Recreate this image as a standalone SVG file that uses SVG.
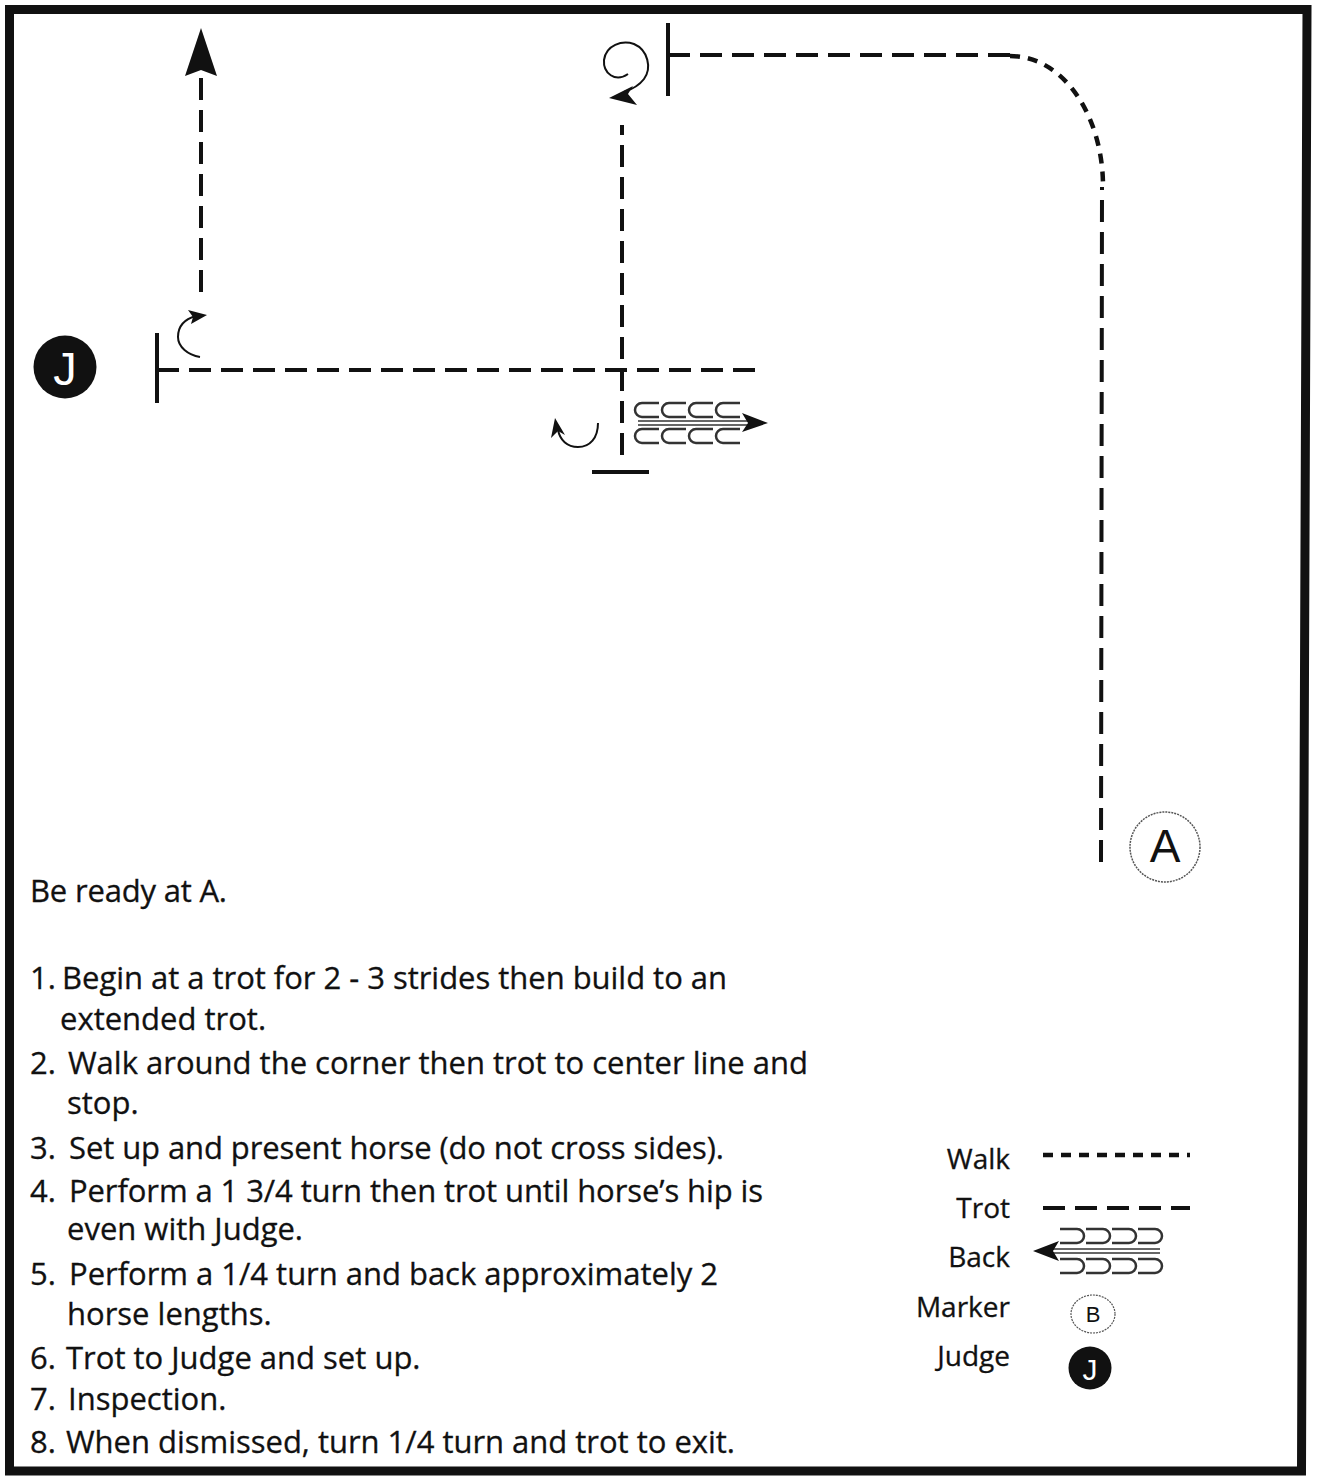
<svg xmlns="http://www.w3.org/2000/svg" width="1317" height="1478" viewBox="0 0 1317 1478">
<style>
.trot{fill:none;stroke:#111;stroke-width:4;stroke-dasharray:22 10}
.walk{fill:none;stroke:#111;stroke-width:4.5;stroke-dasharray:10 8}
.bar{stroke:#111;stroke-width:4;fill:none}
.thin{fill:none;stroke:#111;stroke-width:2}
.cc{fill:none;stroke:#333;stroke-width:2.5}
.head{fill:#111}
.txt{font-family:"Open Sans","Liberation Sans",sans-serif;font-size:31px;fill:#111;stroke:#111;stroke-width:0.3}
.leg{font-family:"Open Sans","Liberation Sans",sans-serif;font-size:28px;fill:#111;text-anchor:end;stroke:#111;stroke-width:0.3}
</style>
<rect width="1317" height="1478" fill="#fff"/>
<path id="frame" d="M9.5,9.5 H1307 L1301.5,1471 H9.5 Z" fill="none" stroke="#111" stroke-width="9"/>

<g id="connectors">
  <line class="trot" x1="201" y1="292" x2="201" y2="77" stroke-dasharray="21 11"/>
  <polygon class="head" points="201,28 217,76 201,70 185,76"/>
  <line class="trot" x1="157" y1="370" x2="755" y2="370"/>
  <line class="bar" x1="157" y1="333" x2="157" y2="403"/>
  <line class="trot" x1="622" y1="455" x2="622" y2="125" stroke-dasharray="18 15"/>
  <line class="bar" x1="592" y1="472" x2="649" y2="472"/>
  <line class="trot" x1="668" y1="55" x2="1010" y2="55"/>
  <line class="bar" x1="668" y1="23" x2="668" y2="96"/>
  <path class="walk" d="M1010,56 C1065,56 1103,118 1103,186"/>
  <line class="trot" x1="1101" y1="862" x2="1102" y2="187"/>
</g>

<g id="turn-left-top">
  <path class="thin" d="M200,357 C188,355 178,347 178,337 C178,326 185,319 196,316"/>
  <polygon class="head" points="207,315 188,310 193,317 191,324"/>
</g>

<g id="spiral">
  <path class="thin" d="M628,74 C615,83 603,73 604,60 C606,45 622,40 634,44 C648,50 652,68 644,79 C638,87 630,90 624,92"/>
  <polygon class="head" points="609,98 633,86 628,94 637,105"/>
</g>

<g id="uturn">
  <path class="thin" d="M598,423 C598,438 590,447 578,447 C567,447 560,440 558,430"/>
  <polygon class="head" points="555,418 565,435 558,431 551,438"/>
</g>

<g id="back-symbol">
  <path class="cc" d="M659,403 H642 A7,7 0 0 0 642,417 H659 M686,403 H669 A7,7 0 0 0 669,417 H686 M713,403 H696 A7,7 0 0 0 696,417 H713 M740,403 H723 A7,7 0 0 0 723,417 H740"/>
  <path class="cc" d="M659,429 H642 A7,7 0 0 0 642,443 H659 M686,429 H669 A7,7 0 0 0 669,443 H686 M713,429 H696 A7,7 0 0 0 696,443 H713 M740,429 H723 A7,7 0 0 0 723,443 H740"/>
  <line x1="638" y1="421" x2="748" y2="421" stroke="#333" stroke-width="1.6"/>
  <line x1="638" y1="425" x2="748" y2="425" stroke="#333" stroke-width="1.6"/>
  <polygon class="head" points="768,423 742,413 748,423 742,432"/>
</g>

<g id="judge">
  <circle cx="65" cy="367" r="31.5" fill="#111"/>
  <text x="65" y="385" font-family="Liberation Sans, sans-serif" font-size="47" fill="#fff" text-anchor="middle">J</text>
</g>

<g id="marker-a">
  <circle cx="1165" cy="847" r="35" fill="none" stroke="#555" stroke-width="1.5" stroke-dasharray="2 1"/>
  <text x="1165" y="862" font-family="Liberation Sans, sans-serif" font-size="46" fill="#111" text-anchor="middle">A</text>
</g>

<g id="instructions" class="txt">
  <text x="30" y="902" textLength="197">Be ready at A.</text>
  <text x="30" y="989">1.</text><text x="62" y="989" textLength="665">Begin at a trot for 2 - 3 strides then build to an</text>
  <text x="60" y="1030">extended trot.</text>
  <text x="30" y="1074">2.</text><text x="68" y="1074" textLength="740">Walk around the corner then trot to center line and</text>
  <text x="67" y="1114">stop.</text>
  <text x="30" y="1159">3.</text><text x="69" y="1159" textLength="655">Set up and present horse (do not cross sides).</text>
  <text x="30" y="1202">4.</text><text x="69" y="1202" textLength="694">Perform a 1 3/4 turn then trot until horse’s hip is</text>
  <text x="67" y="1240">even with Judge.</text>
  <text x="30" y="1285">5.</text><text x="69" y="1285" textLength="649">Perform a 1/4 turn and back approximately 2</text>
  <text x="67" y="1325">horse lengths.</text>
  <text x="30" y="1369">6.</text><text x="66" y="1369">Trot to Judge and set up.</text>
  <text x="30" y="1410">7.</text><text x="68" y="1410">Inspection.</text>
  <text x="30" y="1453">8.</text><text x="66" y="1453" textLength="669">When dismissed, turn 1/4 turn and trot to exit.</text>
</g>

<g id="legend">
  <text class="leg" x="1010" y="1169">Walk</text>
  <line class="walk" x1="1043" y1="1155" x2="1190" y2="1155" stroke-dasharray="11 8"/>
  <text class="leg" x="1010" y="1218">Trot</text>
  <line class="trot" x1="1043" y1="1208" x2="1190" y2="1208" stroke-width="3" stroke-dasharray="22 9"/>
  <text class="leg" x="1010" y="1267">Back</text>
  <path class="cc" d="M1060,1229 H1077 A7,7 0 0 1 1077,1243 H1060 M1086,1229 H1103 A7,7 0 0 1 1103,1243 H1086 M1112,1229 H1129 A7,7 0 0 1 1129,1243 H1112 M1138,1229 H1155 A7,7 0 0 1 1155,1243 H1138"/>
  <path class="cc" d="M1060,1259 H1077 A7,7 0 0 1 1077,1273 H1060 M1086,1259 H1103 A7,7 0 0 1 1103,1273 H1086 M1112,1259 H1129 A7,7 0 0 1 1129,1273 H1112 M1138,1259 H1155 A7,7 0 0 1 1155,1273 H1138"/>
  <line x1="1050" y1="1249" x2="1160" y2="1249" stroke="#333" stroke-width="1.6"/>
  <line x1="1050" y1="1253" x2="1160" y2="1253" stroke="#333" stroke-width="1.6"/>
  <polygon class="head" points="1033,1251 1059,1241 1053,1251 1059,1261"/>
  <text class="leg" x="1010" y="1317">Marker</text>
  <ellipse cx="1093" cy="1314" rx="22" ry="19" fill="none" stroke="#555" stroke-width="1.2" stroke-dasharray="2 1"/>
  <text x="1093" y="1322" font-family="Liberation Sans, sans-serif" font-size="22" fill="#111" text-anchor="middle">B</text>
  <text class="leg" x="1010" y="1366">Judge</text>
  <circle cx="1090" cy="1368" r="21.5" fill="#111"/>
  <text x="1090" y="1380" font-family="Liberation Sans, sans-serif" font-size="30" fill="#fff" text-anchor="middle">J</text>
</g>
</svg>
